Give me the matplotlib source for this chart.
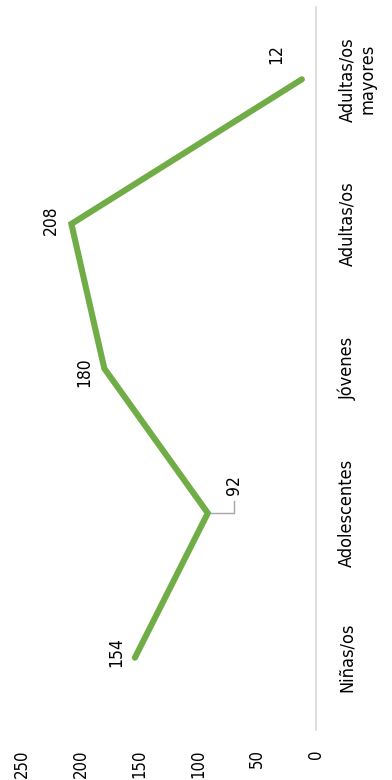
import matplotlib
matplotlib.use("Agg")
import matplotlib.pyplot as plt
from matplotlib.transforms import IdentityTransform

plt.rcParams['font.family'] = ['DejaVu Sans']
plt.rcParams['font.stretch'] = 'condensed'

categories = ["Niñas/os", "Adolescentes", "Jóvenes", "Adultas/os", "Adultas/os\nmayores"]
values = [154, 92, 180, 208, 12]
value_ticks = [0, 50, 100, 150, 200, 250]
# label offsets in pixels (dx, dy) around each point
label_offsets = [(-19, 6), (26, 28), (-20, -4), (-21, 4), (-26, 25)]

GREEN = "#70ad47"
DPI = 100
fig = plt.figure(figsize=(3.92, 7.8), dpi=DPI)
ax = fig.add_axes([22 / 392, 1 - 730 / 780, (316 - 22) / 392, (730 - 7) / 780])

pos = list(range(len(categories)))
ax.plot(values, pos, color=GREEN, lw=4.4, solid_capstyle='round', solid_joinstyle='miter')

ax.set_xlim(250, 0)
ax.set_ylim(-0.5, len(categories) - 0.5)

for s in ['top', 'left', 'bottom']:
    ax.spines[s].set_visible(False)
ax.spines['right'].set_color('#d9d9d9')
ax.spines['right'].set_linewidth(1.2)

ax.set_xticks(value_ticks)
ax.set_xticklabels([str(v) for v in value_ticks], rotation=90, fontsize=12)
ax.tick_params(axis='x', length=0, pad=14)
for lab in ax.get_xticklabels():
    lab.set_va('top')
    lab.set_ha('center')

ax.yaxis.tick_right()
ax.set_yticks(pos)
ax.set_yticklabels(categories, rotation=90, fontsize=13, va='center', ha='left',
                   multialignment='center', linespacing=1.15)
ax.tick_params(axis='y', length=0, pad=16)

for v, p, (dx, dy) in zip(values, pos, label_offsets):
    ax.annotate(str(v), (v, p), xytext=(dx, dy), textcoords='offset pixels',
                rotation=90, ha='center', va='center', fontsize=12.5, color='black')

# leader line for the Adolescentes label
i = 1
px, py = ax.transData.transform((values[i], pos[i]))
dx, dy = label_offsets[i]
ax.plot([px + 3, px + dx, px + dx], [py, py, py + dy - 16], transform=IdentityTransform(),
        color='#a6a6a6', lw=1.0, clip_on=False)

fig.savefig("out.png", dpi=DPI)
